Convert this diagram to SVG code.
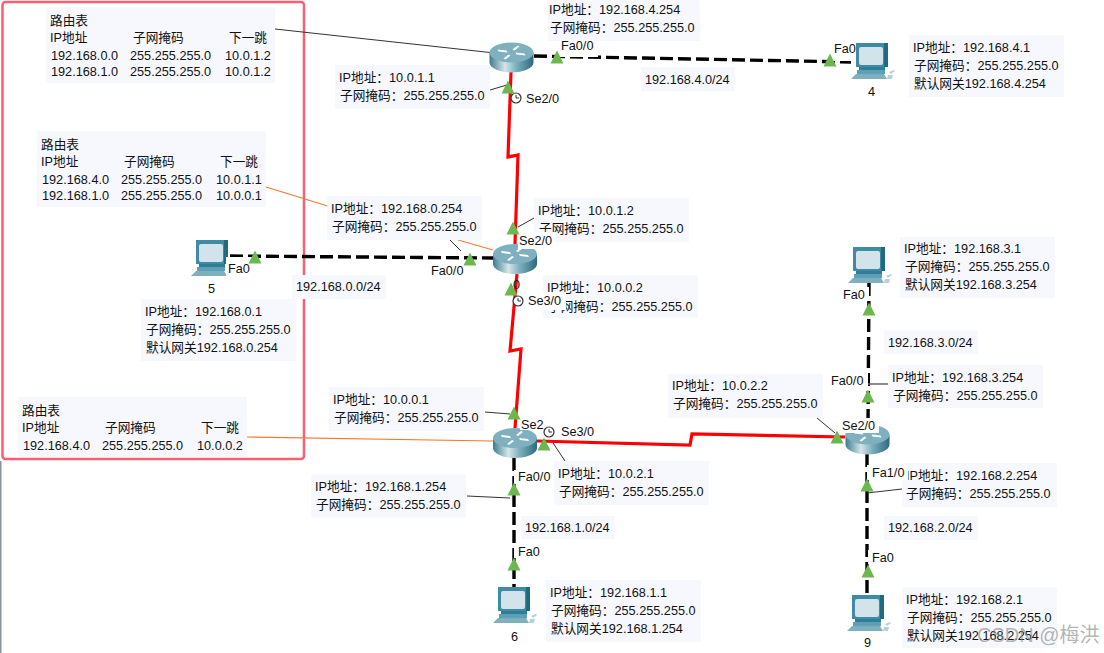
<svg xmlns="http://www.w3.org/2000/svg" width="1104" height="653" viewBox="0 0 1104 653">
<style>
text{font-family:"Liberation Sans","Noto Sans CJK SC",sans-serif;font-size:12.7px;fill:#111}
.box{fill:#f6f8fe}
.wb{fill:#fff}
.red{fill:none;stroke:#f00;stroke-width:3.2}
.eth{fill:none;stroke:#000;stroke-width:3.4;stroke-dasharray:13 5}
.lead{stroke:#333;stroke-width:1;fill:none}
.org{stroke:#f47a30;stroke-width:1.1;fill:none}
.tri{fill:#6cb84f}
.clk{fill:#fff;stroke:#333;stroke-width:1.2}
.wm{fill:#8a8a8a;fill-opacity:.65;font-size:20px}
</style>
<defs>
<linearGradient id="rb" x1="0" x2="1" y1="0" y2="0">
<stop offset="0" stop-color="#3d7c90"/><stop offset=".35" stop-color="#d5e6ea"/><stop offset=".6" stop-color="#7fb0bf"/><stop offset="1" stop-color="#2b6a7f"/>
</linearGradient>
<g id="router">
<path d="M-22,0V10A22,10 0 0 0 22,10V0Z" fill="url(#rb)"/>
<ellipse cx="0" cy="0" rx="22" ry="10" fill="#7fb0c0"/>
<path d="M-14,-3l9,1 1,2 -9,-1zM14,3l-9,-1 -1,-2 9,1zM-8,6l5,-4 2,1 -5,4zM8,-6l-5,4 -2,-1 5,-4z" fill="#fff"/>
</g>
<g id="pc">
<rect x="5" y="0" width="32" height="24" fill="#3f8aa5"/>
<rect x="33" y="0" width="4" height="24" fill="#1f6c82"/>
<rect x="8" y="4" width="24" height="18" rx="2" fill="#d3e3ea"/>
<rect x="8" y="24" width="26" height="3" fill="#2f7e98"/>
<rect x="6" y="27" width="28" height="4" fill="#5f9fb5"/>
<path d="M5,31H33L36,36H0Z" fill="#7fb0c0"/>
<path d="M38,29l5,-2 1,1 -4,3zM37,32h5l-1,4h-5z" fill="#b9d0d8"/>
</g>
<path id="lt" d="M0,-6.500L6.500,6.500H-6.500Z"/>
<g id="clock"><circle r="5" class="clk"/><path d="M0,-3V0H3" fill="none" stroke="#333"/></g>
</defs>

<rect x="2.500" y="2" width="301.500" height="457" rx="3" fill="#fff" stroke="#f95f72" stroke-width="2.500"/>
<path d="M0.700,461V653" stroke="#8b9198" stroke-width="1.600"/>

<g id="connectors">
<path class="red" d="M511,72L508,157L518,155L515,244"/>
<path class="red" d="M517,274L510,351L521,349L515,428"/>
<path class="red" d="M537,441L690,445L692,434L845,437"/>
<path class="eth" d="M534,56L851,62"/>
<path class="eth" d="M230,256L493,258"/>
<path class="eth" d="M514,458V587"/>
<path class="eth" d="M869,283L868,424"/>
<path class="eth" d="M867,454V595"/>
<path class="lead" d="M275,29L490,52.500"/>
<path class="org" d="M266,187L331,207"/>
<path class="org" d="M458,240L493,250"/>
<path class="org" d="M247,437L493,441"/>
<path class="lead" d="M490,90L507,85"/>
<path class="lead" d="M450,240L461,251"/>
<path class="lead" d="M518,227L534,218"/>
<path class="lead" d="M485,412L510,414"/>
<path class="lead" d="M553,443L565,461"/>
<path class="lead" d="M467,496L510,498"/>
<path class="lead" d="M817,418L835,433"/>
<path d="M868,384H888" stroke="#666" stroke-width="1.500" fill="none"/>
<path class="lead" d="M867,493L902,489"/>
</g>

<g id="router-a"><use href="#router" x="511.500" y="52.500"/></g>
<g id="router-b"><use href="#router" x="515" y="254"/></g>
<g id="router-c"><use href="#router" x="515" y="438"/></g>
<g id="router-d"><use href="#router" x="867.500" y="434.500"/></g>
<g id="pc-4"><use href="#pc" x="851" y="43"/><text x="868" y="96">4</text></g>
<g id="pc-5"><use href="#pc" x="191" y="240"/><text x="208" y="293">5</text></g>
<g id="pc-3"><use href="#pc" x="848" y="247"/></g>
<g id="pc-6"><use href="#pc" x="493" y="587"/><text x="511" y="641">6</text></g>
<g id="pc-9"><use href="#pc" x="847" y="595"/><text x="864" y="647">9</text></g>

<g id="table-1"><rect class="box" x="46" y="7" width="229" height="76"/>
<text x="50" y="25">路由表</text><text x="50" y="42">IP地址</text><text x="133" y="42">子网掩码</text><text x="229" y="42">下一跳</text>
<text x="51" y="60">192.168.0.0</text><text x="130" y="60">255.255.255.0</text><text x="225" y="60">10.0.1.2</text>
<text x="51" y="76">192.168.1.0</text><text x="130" y="76">255.255.255.0</text><text x="225" y="76">10.0.1.2</text></g>
<g id="table-2"><rect class="box" x="37" y="131" width="229" height="76"/>
<text x="41" y="149">路由表</text><text x="41" y="166">IP地址</text><text x="124" y="166">子网掩码</text><text x="220" y="166">下一跳</text>
<text x="42" y="184">192.168.4.0</text><text x="121" y="184">255.255.255.0</text><text x="216" y="184">10.0.1.1</text>
<text x="42" y="200">192.168.1.0</text><text x="121" y="200">255.255.255.0</text><text x="216" y="200">10.0.0.1</text></g>
<g id="table-3"><rect class="box" x="18" y="397" width="229" height="60"/>
<text x="22" y="415">路由表</text><text x="22" y="432">IP地址</text><text x="105" y="432">子网掩码</text><text x="201" y="432">下一跳</text>
<text x="23" y="450">192.168.4.0</text><text x="102" y="450">255.255.255.0</text><text x="197" y="450">10.0.0.2</text></g>

<g id="info-a-fa"><rect class="box" x="548" y="0" width="152" height="41"/><text x="549" y="14">IP地址：192.168.4.254</text><text x="550" y="32">子网掩码：255.255.255.0</text></g>
<g id="info-a-se"><rect class="box" x="335" y="65" width="155" height="44"/><text x="339" y="82">IP地址：10.0.1.1</text><text x="340" y="100">子网掩码：255.255.255.0</text></g>
<g id="info-pc4"><rect class="box" x="909" y="35" width="155" height="62"/><text x="913" y="52">IP地址：192.168.4.1</text><text x="914" y="70">子网掩码：255.255.255.0</text><text x="914" y="88">默认网关192.168.4.254</text></g>
<g id="net-4"><rect class="box" x="641" y="67" width="94" height="24"/><text x="645" y="84">192.168.4.0/24</text></g>
<g id="info-b-fa"><rect class="box" x="327" y="196" width="155" height="44"/><text x="331" y="213">IP地址：192.168.0.254</text><text x="332" y="231">子网掩码：255.255.255.0</text></g>
<g id="info-b-se2"><rect class="box" x="534" y="198" width="155" height="44"/><text x="538" y="215">IP地址：10.0.1.2</text><text x="539" y="233">子网掩码：255.255.255.0</text></g>
<g id="info-b-se3"><rect class="box" x="543" y="275" width="155" height="43"/><text x="547" y="292">IP地址：10.0.0.2</text><text x="548" y="311">子网掩码：255.255.255.0</text></g>
<g id="net-0"><rect class="box" x="292" y="275" width="94" height="24"/><text x="296" y="291">192.168.0.0/24</text></g>
<g id="info-pc5"><rect class="box" x="141" y="299" width="155" height="62"/><text x="145" y="316">IP地址：192.168.0.1</text><text x="146" y="334">子网掩码：255.255.255.0</text><text x="146" y="352">默认网关192.168.0.254</text></g>
<g id="info-c-se2"><rect class="box" x="329" y="387" width="155" height="44"/><text x="333" y="404">IP地址：10.0.0.1</text><text x="334" y="422">子网掩码：255.255.255.0</text></g>
<g id="info-c-se3"><rect class="box" x="554" y="461" width="155" height="44"/><text x="558" y="478">IP地址：10.0.2.1</text><text x="559" y="496">子网掩码：255.255.255.0</text></g>
<g id="info-c-fa"><rect class="box" x="311" y="474" width="155" height="44"/><text x="315" y="491">IP地址：192.168.1.254</text><text x="316" y="509">子网掩码：255.255.255.0</text></g>
<g id="net-1"><rect class="box" x="521" y="516" width="94" height="23"/><text x="525" y="532">192.168.1.0/24</text></g>
<g id="info-pc6"><rect class="box" x="546" y="580" width="155" height="62"/><text x="550" y="597">IP地址：192.168.1.1</text><text x="551" y="615">子网掩码：255.255.255.0</text><text x="551" y="633">默认网关192.168.1.254</text></g>
<g id="info-d-se"><rect class="box" x="668" y="374" width="155" height="44"/><text x="672" y="390">IP地址：10.0.2.2</text><text x="673" y="408">子网掩码：255.255.255.0</text></g>
<g id="info-d-fa0"><rect class="box" x="888" y="365" width="155" height="43"/><text x="892" y="382">IP地址：192.168.3.254</text><text x="893" y="400">子网掩码：255.255.255.0</text></g>
<g id="info-d-fa1"><rect class="box" x="902" y="463" width="155" height="44"/><text x="906" y="480">IP地址：192.168.2.254</text><text x="906" y="498">子网掩码：255.255.255.0</text></g>
<g id="net-3"><rect class="box" x="884" y="330" width="94" height="24"/><text x="888" y="347">192.168.3.0/24</text></g>
<g id="net-2"><rect class="box" x="884" y="516" width="94" height="24"/><text x="888" y="532">192.168.2.0/24</text></g>
<g id="info-pc3"><rect class="box" x="900" y="237" width="155" height="61"/><text x="904" y="253">IP地址：192.168.3.1</text><text x="905" y="271">子网掩码：255.255.255.0</text><text x="905" y="289">默认网关192.168.3.254</text></g>
<g id="info-pc9"><rect class="box" x="902" y="587" width="155" height="61"/><text x="906" y="604">IP地址：192.168.2.1</text><text x="907" y="622">子网掩码：255.255.255.0</text><text x="907" y="640">默认网关192.168.2.254</text></g>

<g id="port-labels">
<rect class="wb" x="557" y="41" width="41" height="16"/><text x="561" y="50">Fa0/0</text>
<rect class="wb" x="830" y="41" width="26" height="20"/><text x="834" y="53">Fa0</text>
<rect class="wb" x="524" y="92" width="38" height="14"/><text x="526" y="103">Se2/0</text>
<rect class="wb" x="518" y="232" width="38" height="17"/><text x="519" y="245">Se2/0</text>
<rect class="wb" x="430" y="264" width="40" height="16"/><text x="431" y="275">Fa0/0</text>
<rect class="wb" x="226" y="257" width="26" height="19"/><text x="228" y="273">Fa0</text>
<text x="513" y="289">0</text>
<rect class="wb" x="527" y="292" width="39" height="18"/><text x="528" y="305">Se3/0</text>
<rect class="wb" x="520" y="415" width="25" height="15"/><text x="521" y="429">Se2</text>
<text x="561" y="436">Se3/0</text>
<rect class="wb" x="514" y="470" width="38" height="14"/><text x="518" y="481">Fa0/0</text>
<rect class="wb" x="514" y="543" width="28" height="15"/><text x="518" y="556">Fa0</text>
<rect class="wb" x="841" y="418" width="38" height="15"/><text x="842" y="430">Se2/0</text>
<rect class="wb" x="830" y="372" width="38" height="16"/><text x="831" y="385">Fa0/0</text>
<rect class="wb" x="842" y="287" width="27" height="13"/><text x="843" y="299">Fa0</text>
<rect class="wb" x="867" y="465" width="41" height="15"/><text x="872" y="477">Fa1/0</text>
<rect class="wb" x="868" y="550" width="27" height="14"/><text x="872" y="562">Fa0</text>
</g>

<g id="clocks">
<use href="#clock" x="516" y="98"/>
<use href="#clock" x="518" y="301"/>
<use href="#clock" x="549" y="432"/>
</g>

<g id="link-lights" class="tri">
<use href="#lt" x="557" y="57"/><use href="#lt" x="508" y="87"/>
<use href="#lt" x="830" y="60"/><use href="#lt" x="513" y="228"/>
<use href="#lt" x="470" y="259"/><use href="#lt" x="511" y="289"/>
<use href="#lt" x="255" y="257"/><use href="#lt" x="514" y="413"/>
<use href="#lt" x="544" y="444"/><use href="#lt" x="514" y="489"/>
<use href="#lt" x="514" y="564"/><use href="#lt" x="837" y="437"/>
<use href="#lt" x="868" y="396"/><use href="#lt" x="869" y="309"/>
<use href="#lt" x="867" y="485"/><use href="#lt" x="868" y="571"/>
</g>

<text class="wm" x="977" y="642">CSDN @梅洪</text>
</svg>
